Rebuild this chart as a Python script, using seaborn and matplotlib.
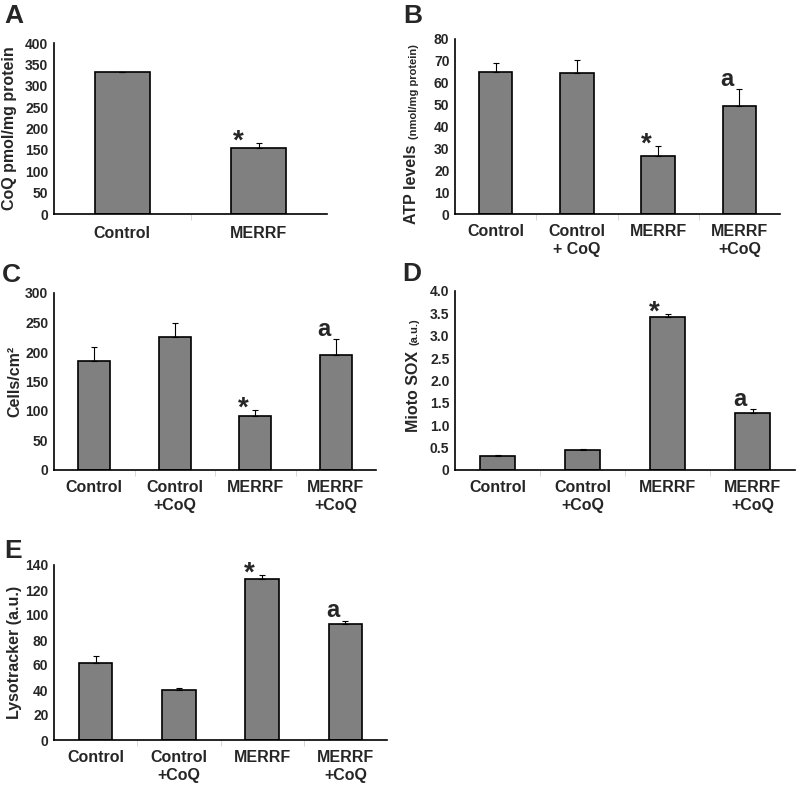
import pandas as pd
import seaborn as sns
import matplotlib.pyplot as plt

# data
groups2 = ['Control', 'MERRF']
groups4 = ['Control', 'Control\n+CoQ', 'MERRF', 'MERRF\n+CoQ']
groups4_b = ['Control', 'Control\n+ CoQ', 'MERRF', 'MERRF\n+CoQ']

coq_mean = [333, 155]
coq_err = [0, 12]

atp_mean = [65, 64.5, 26.5, 49.5]
atp_err = [4, 6, 4.5, 7.5]

cells_mean = [185, 225, 92, 195]
cells_err = [23, 24, 9, 27]

sox_mean = [0.31, 0.45, 3.43, 1.28]
sox_err = [0.02, 0.02, 0.05, 0.08]

lyso_mean = [62, 40, 129, 93]
lyso_err = [5, 1.5, 3, 2.5]

sns.set_style('white')
plt.rcParams['font.family'] = ['Liberation Sans', 'DejaVu Sans']
plt.rcParams['font.weight'] = 'bold'

W, H = 798, 787
fig = plt.figure(figsize=(W / 100, H / 100), dpi=100)


def px_axes(left, top, right, bottom):
    return fig.add_axes([left / W, 1 - bottom / H, (right - left) / W, (bottom - top) / H])


def panel(ax, labels, means, errs, ylim, yticks, ytick_labels, width, marks):
    df = pd.DataFrame({'group': labels, 'value': means})
    sns.barplot(data=df, x='group', y='value', color='#808080', saturation=1,
                edgecolor='black', linewidth=1.2, width=width, ax=ax)
    xs = list(range(len(labels)))
    ax.errorbar(xs, means, yerr=[[0] * len(errs), errs], fmt='none',
                ecolor='black', elinewidth=0.8, capsize=2.5, capthick=0.8)
    ax.set_xlim(-0.5, len(labels) - 0.5)
    ax.set_ylim(*ylim)
    ax.set_yticks(yticks)
    ax.set_yticklabels(ytick_labels, fontsize=10, fontweight='bold')
    ax.set_xticks(xs)
    ax.set_xticklabels(labels, fontsize=11.5, fontweight='bold', linespacing=1.25)
    ax.set_xticks([i + 0.5 for i in xs[:-1]], minor=True)
    ax.tick_params(axis='x', which='major', length=0, pad=7)
    ax.tick_params(axis='x', which='minor', length=4, width=0.6, color='#d0d0d0',
                   direction='out', bottom=True)
    ax.tick_params(axis='y', length=0, pad=4)
    ax.set_xlabel('')
    ax.set_ylabel('')
    for side in ['top', 'right']:
        ax.spines[side].set_visible(False)
    for side in ['left', 'bottom']:
        ax.spines[side].set_color('black')
        ax.spines[side].set_linewidth(1.2)
    for i, m in marks.items():
        top = means[i] + errs[i]
        if m == '*':
            ax.annotate('*', (i - 0.15, top), xytext=(0, -4), textcoords='offset points',
                        ha='center', va='baseline', fontsize=20, fontweight='bold')
        else:
            ax.annotate('a', (i - 0.15, top), xytext=(0, 2.5), textcoords='offset points',
                        ha='center', va='baseline', fontsize=17, fontweight='bold')


# A
axA = px_axes(54, 43, 327, 214)
panel(axA, groups2, coq_mean, coq_err, (0, 400), range(0, 401, 50),
      [str(v) for v in range(0, 401, 50)], 0.4, {1: '*'})
axA.tick_params(axis='x', which='major', pad=9)
axA.set_ylabel('CoQ pmol/mg protein', fontsize=11.5, fontweight='bold', labelpad=6)

# B
axB = px_axes(455, 39, 780, 214)
panel(axB, groups4_b, atp_mean, atp_err, (0, 80), range(0, 81, 10),
      [str(v) for v in range(0, 81, 10)], 0.41, {2: '*', 3: 'a'})
fig.text(412 / W, 1 - 184 / H, 'ATP levels', rotation=90, ha='center', va='center',
         fontsize=11.5, fontweight='bold')
fig.text(414 / W, 1 - 92 / H, '(nmol/mg protein)', rotation=90, ha='center', va='center',
         fontsize=8, fontweight='bold')

# C
axC = px_axes(54, 293, 376, 470)
panel(axC, groups4, cells_mean, cells_err, (0, 300), range(0, 301, 50),
      [str(v) for v in range(0, 301, 50)], 0.4, {2: '*', 3: 'a'})
axC.set_ylabel('Cells/cm²', fontsize=11.5, fontweight='bold', labelpad=2)

# D
axD = px_axes(455, 291, 795, 470)
sox_ticks = [0, 0.5, 1.0, 1.5, 2.0, 2.5, 3.0, 3.5, 4.0]
panel(axD, groups4, sox_mean, sox_err, (0, 4.0), sox_ticks,
      ['0'] + [f'{v:.1f}' for v in sox_ticks[1:]], 0.42, {2: '*', 3: 'a'})
fig.text(413 / W, 1 - 391 / H, 'Mioto SOX', rotation=90, ha='center', va='center',
         fontsize=11.5, fontweight='bold')
fig.text(415 / W, 1 - 332 / H, '(a.u.)', rotation=90, ha='center', va='center',
         fontsize=8, fontweight='bold')

# E
axE = px_axes(54, 565, 387, 740)
panel(axE, groups4, lyso_mean, lyso_err, (0, 140), range(0, 141, 20),
      [str(v) for v in range(0, 141, 20)], 0.4, {2: '*', 3: 'a'})
axE.set_ylabel('Lysotracker (a.u.)', fontsize=11.5, fontweight='bold', labelpad=2)

# panel letters
for letter, x, y in [('A', 4, 4), ('B', 403, 4), ('C', 2, 263), ('D', 402, 262), ('E', 4, 539)]:
    fig.text(x / W, 1 - y / H, letter, ha='left', va='top', fontsize=19, fontweight='bold')

fig.savefig('out.png', dpi=100)
